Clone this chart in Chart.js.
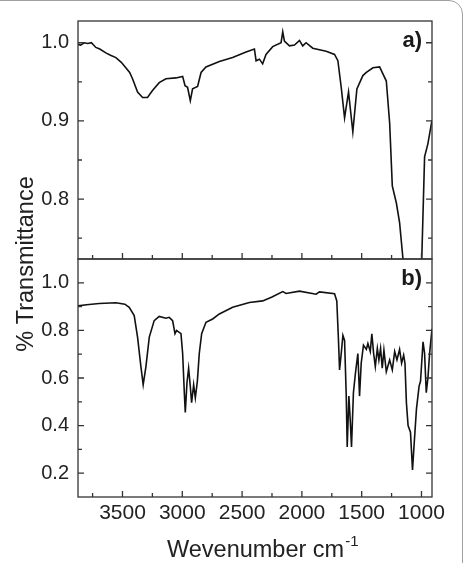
<!DOCTYPE html>
<html>
<head>
<meta charset="utf-8">
<script src="https://cdn.jsdelivr.net/npm/chart.js@4"></script>
<style>
    body { margin: 0; background: #fff; }
    #wrap { position: relative; width: 465px; height: 563px; overflow: hidden; }
    #frame { position: absolute; left: -20px; top: 0; width: 481px; height: 620px; border: 1.5px solid #a0a0a0; border-radius: 14px; }
    canvas { position: absolute; left: 0; top: 0; }
</style>
</head>
<body>
<div id="wrap">
    <div id="frame"></div>
    <canvas id="irChart" width="465" height="563"></canvas>
</div>
<script>
// spectrum a) (top panel)
const waveA = [3872, 3850, 3820, 3790, 3760, 3723, 3690, 3639, 3600, 3555, 3510, 3472, 3440, 3416, 3374, 3332, 3291, 3249, 3193, 3137, 3053, 2997, 2977, 2956, 2933, 2914, 2872, 2843, 2802, 2690, 2579, 2467, 2397, 2383, 2355, 2328, 2300, 2244, 2174, 2160, 2146, 2104, 2062, 2020, 1993, 1965, 1909, 1797, 1727, 1699, 1671, 1643, 1610, 1574, 1540, 1490, 1461, 1406, 1350, 1294, 1266, 1244, 1210, 1183, 1155, 1120, 1080, 1040, 1000, 974, 946, 912];
const transA = [0.998, 0.997, 1.0, 0.999, 1.0, 0.994, 0.992, 0.987, 0.984, 0.981, 0.975, 0.968, 0.962, 0.954, 0.937, 0.930, 0.930, 0.939, 0.949, 0.954, 0.955, 0.957, 0.945, 0.943, 0.926, 0.941, 0.944, 0.962, 0.969, 0.976, 0.981, 0.988, 0.992, 0.977, 0.979, 0.973, 0.985, 0.995, 1.0, 1.014, 1.002, 0.996, 0.997, 1.003, 0.996, 1.0, 0.993, 0.989, 0.985, 0.977, 0.943, 0.904, 0.937, 0.886, 0.941, 0.958, 0.962, 0.968, 0.969, 0.951, 0.897, 0.817, 0.795, 0.770, 0.724, 0.66, 0.62, 0.62, 0.71, 0.854, 0.871, 0.901];

// spectrum b) (bottom panel)
const waveB = [3872, 3800, 3695, 3555, 3480, 3444, 3402, 3374, 3346, 3327, 3304, 3276, 3235, 3193, 3137, 3109, 3081, 3061, 3048, 3011, 2997, 2983, 2975, 2961, 2947, 2933, 2922, 2905, 2891, 2874, 2858, 2838, 2802, 2746, 2690, 2579, 2439, 2328, 2250, 2160, 2132, 2020, 1881, 1853, 1727, 1708, 1694, 1685, 1671, 1657, 1643, 1629, 1621, 1607, 1596, 1585, 1569, 1552, 1532, 1518, 1504, 1485, 1461, 1448, 1428, 1415, 1400, 1386, 1369, 1356, 1342, 1328, 1314, 1294, 1266, 1244, 1224, 1205, 1183, 1166, 1149, 1138, 1126, 1112, 1092, 1075, 1062, 1042, 1020, 1008, 987, 974, 960, 946, 932, 912];
const transB = [0.903, 0.908, 0.913, 0.916, 0.91, 0.897, 0.862, 0.772, 0.648, 0.572, 0.648, 0.772, 0.841, 0.859, 0.851, 0.855, 0.841, 0.786, 0.8, 0.786, 0.703, 0.538, 0.455, 0.579, 0.641, 0.565, 0.496, 0.572, 0.517, 0.586, 0.703, 0.786, 0.834, 0.848, 0.869, 0.897, 0.917, 0.924, 0.94, 0.963, 0.955, 0.965, 0.952, 0.962, 0.954, 0.924, 0.758, 0.634, 0.703, 0.779, 0.758, 0.524, 0.31, 0.524, 0.427, 0.31, 0.538, 0.621, 0.703, 0.524, 0.662, 0.738, 0.72, 0.745, 0.711, 0.786, 0.703, 0.648, 0.724, 0.676, 0.724, 0.641, 0.717, 0.627, 0.676, 0.634, 0.711, 0.676, 0.72, 0.662, 0.696, 0.662, 0.496, 0.4, 0.372, 0.214, 0.317, 0.469, 0.566, 0.586, 0.752, 0.703, 0.538, 0.6, 0.703, 0.807];

// tick values
const xTicks = [1000, 1500, 2000, 2500, 3000, 3500];
const xMinor = [1250, 1750, 2250, 2750, 3250, 3750];
const yTicksA = [0.8, 0.9, 1.0];
const yMinorA = [0.75, 0.85, 0.95];
const yTicksB = [0.2, 0.4, 0.6, 0.8, 1.0];
const yMinorB = [0.3, 0.5, 0.7, 0.9];

const fontFamily = "'Liberation Sans', Arial, sans-serif";
Chart.defaults.font.family = fontFamily;

function toPoints(xs, ys) {
    return xs.map((x, i) => ({ x: x, y: ys[i] }));
}

const panels = [
    { axis: 'yA', major: yTicksA, minor: yMinorA, label: 'a)' },
    { axis: 'yB', major: yTicksB, minor: yMinorB, label: 'b)' }
];

// frames, inward ticks, panel letters and axis titles
const panelFrame = {
    id: 'panelFrame',
    beforeDatasetDraw(chart, args) {
        const area = chart.chartArea;
        const ys = args.meta.yScale;
        chart.ctx.save();
        chart.ctx.beginPath();
        chart.ctx.rect(area.left, ys.top, area.right - area.left, ys.bottom - ys.top);
        chart.ctx.clip();
    },
    afterDatasetDraw(chart) {
        chart.ctx.restore();
    },
    afterDraw(chart) {
        const ctx = chart.ctx;
        const area = chart.chartArea;
        const xs = chart.scales.x;
        ctx.save();
        ctx.strokeStyle = '#333';
        ctx.lineWidth = 1.3;
        panels.forEach(p => {
            const ys = chart.scales[p.axis];
            ctx.strokeRect(area.left, ys.top, area.right - area.left, ys.bottom - ys.top);
            ctx.beginPath();
            p.major.forEach(v => {
                const py = ys.getPixelForValue(v);
                ctx.moveTo(area.left, py); ctx.lineTo(area.left + 6, py);
                ctx.moveTo(area.right, py); ctx.lineTo(area.right - 6, py);
            });
            p.minor.forEach(v => {
                const py = ys.getPixelForValue(v);
                ctx.moveTo(area.left, py); ctx.lineTo(area.left + 4, py);
                ctx.moveTo(area.right, py); ctx.lineTo(area.right - 4, py);
            });
            xTicks.forEach(v => {
                const px = xs.getPixelForValue(v);
                ctx.moveTo(px, ys.bottom); ctx.lineTo(px, ys.bottom - 6);
            });
            xMinor.forEach(v => {
                const px = xs.getPixelForValue(v);
                ctx.moveTo(px, ys.bottom); ctx.lineTo(px, ys.bottom - 4);
            });
            ctx.stroke();

            ctx.fillStyle = '#1a1a1a';
            ctx.font = 'bold 22px ' + fontFamily;
            ctx.textAlign = 'right';
            ctx.textBaseline = 'middle';
            ctx.fillText(p.label, area.right - 10, ys.top + 20);
        });

        // y title
        ctx.fillStyle = '#222';
        ctx.save();
        ctx.translate(33, (area.top + area.bottom) / 2 + 5);
        ctx.rotate(-Math.PI / 2);
        ctx.font = '23.5px ' + fontFamily;
        ctx.textAlign = 'center';
        ctx.textBaseline = 'alphabetic';
        ctx.fillText('% Transmittance', 0, 0);
        ctx.restore();

        // x title with superscript
        ctx.font = '23.5px ' + fontFamily;
        ctx.textAlign = 'left';
        ctx.textBaseline = 'alphabetic';
        const main = 'Wevenumber cm';
        const w = ctx.measureText(main).width;
        ctx.fillText(main, 167, 557);
        ctx.font = '15px ' + fontFamily;
        ctx.fillText('-1', 167 + w + 1, 546);
        ctx.restore();
    }
};

const ctx = document.getElementById('irChart').getContext('2d');

const chart = new Chart(ctx, {
    type: 'line',
    data: {
        datasets: [
            {
                label: 'a)',
                data: toPoints(waveA, transA),
                yAxisID: 'yA',
                borderColor: '#111',
                borderWidth: 1.6,
                pointRadius: 0,
                tension: 0
            },
            {
                label: 'b)',
                data: toPoints(waveB, transB),
                yAxisID: 'yB',
                borderColor: '#111',
                borderWidth: 1.6,
                pointRadius: 0,
                tension: 0
            }
        ]
    },
    options: {
        responsive: false,
        animation: false,
        layout: { padding: { top: 13, right: 33, left: 0, bottom: 0 } },
        plugins: {
            legend: { display: false },
            tooltip: { enabled: false }
        },
        scales: {
            x: {
                type: 'linear',
                position: 'bottom',
                reverse: true,
                min: 912,
                max: 3872,
                grid: { display: false, drawTicks: false },
                border: { display: false },
                ticks: {
                    color: '#222',
                    font: { size: 21 },
                    padding: 4,
                    maxRotation: 0,
                    autoSkip: false,
                    callback: v => String(v)
                },
                afterBuildTicks: s => { s.ticks = xTicks.map(v => ({ value: v })); },
                afterFit: s => { s.height = 66; }
            },
            yA: {
                type: 'linear',
                position: 'left',
                stack: 'ir',
                stackWeight: 1,
                weight: 1,
                min: 0.7234,
                max: 1.0278,
                grid: { display: false, drawTicks: false },
                border: { display: false },
                ticks: {
                    color: '#222',
                    font: { size: 20 },
                    padding: 9,
                    callback: v => v.toFixed(1)
                },
                afterBuildTicks: s => { s.ticks = yTicksA.map(v => ({ value: v })); },
                afterFit: s => { s.width = 78; }
            },
            yB: {
                type: 'linear',
                position: 'left',
                stack: 'ir',
                stackWeight: 1,
                weight: 0,
                min: 0.1,
                max: 1.1,
                grid: { display: false, drawTicks: false },
                border: { display: false },
                ticks: {
                    color: '#222',
                    font: { size: 20 },
                    padding: 9,
                    callback: v => v.toFixed(1)
                },
                afterBuildTicks: s => { s.ticks = yTicksB.map(v => ({ value: v })); },
                afterFit: s => { s.width = 78; }
            }
        }
    },
    plugins: [panelFrame]
});
</script>
</body>
</html>
